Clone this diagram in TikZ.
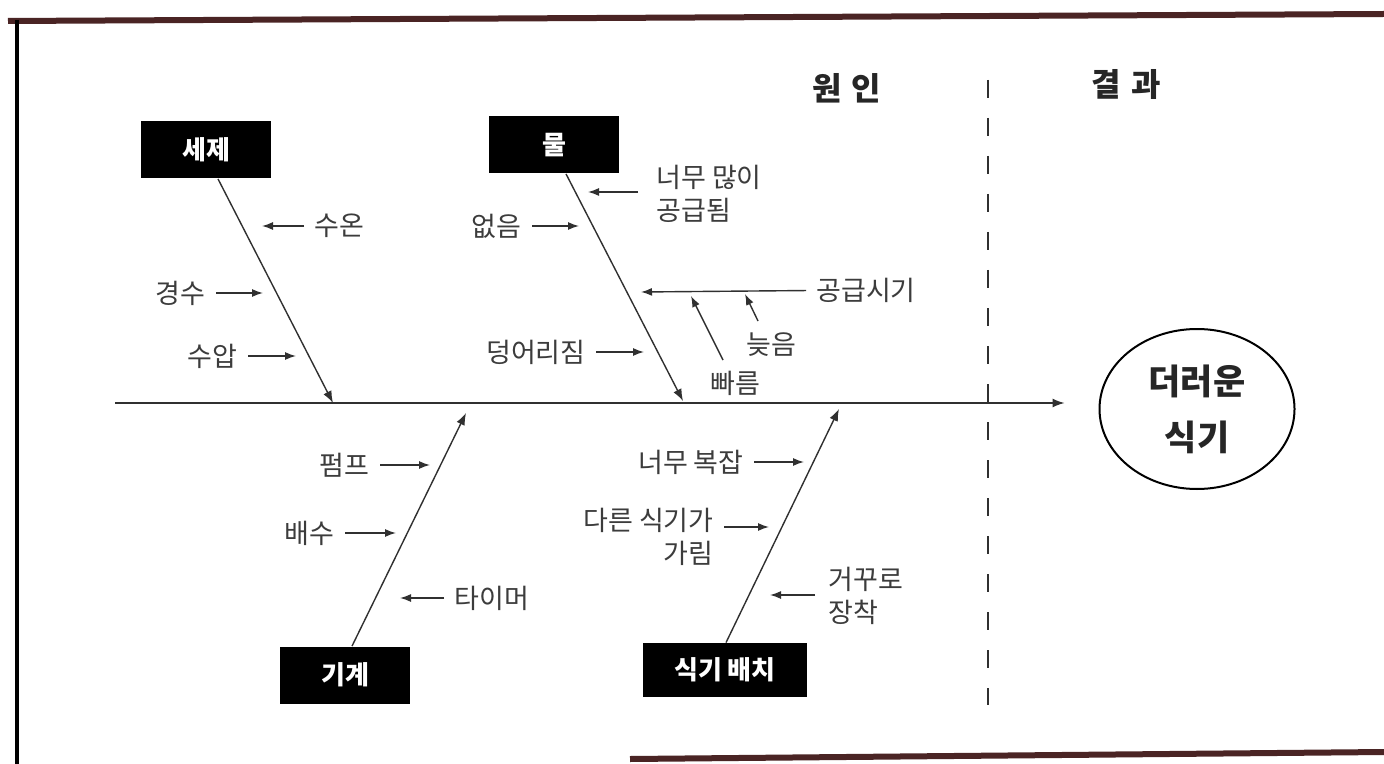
\documentclass[tikz,border=0pt]{standalone}
\usepackage{fontspec}
\setmainfont{Noto Sans CJK KR}
\usetikzlibrary{arrows.meta,shapes.geometric}
\definecolor{ink}{HTML}{303030}
\definecolor{lbl}{HTML}{3C3C3C}
\definecolor{frame}{HTML}{4A2424}
\tikzset{
  arr/.style={draw=ink, line width=0.7pt, -{Latex[length=5.5pt,width=4pt]}},
  tarr/.style={arr, shorten <=4pt},
  bone/.style={draw=ink, line width=0.7pt, -{Latex[length=6pt,width=4.5pt]}},
  catbox/.style={fill=black, text=white, font=\fontsize{13}{15}\selectfont\bfseries, minimum width=65pt, minimum height=28.5pt, inner sep=0pt},
  lab/.style={text=lbl, font=\fontsize{13.5}{16.5}\selectfont, inner sep=1pt},
  ttl/.style={text=black!85, font=\fontsize{16}{18}\selectfont\bfseries, inner sep=0pt},
}
\begin{document}
\begin{tikzpicture}[x=0.5pt,y=-0.5pt]
\useasboundingbox (0,0) rectangle (1384,764);
\fill[white] (0,0) rectangle (1384,764);
% frame
\draw[frame, line width=3pt] (8,21) -- (1384,14);
\draw[black, line width=2pt] (17,20) -- (17,764);
\draw[frame, line width=3pt] (630,759) -- (1384,752);
% titles
\node[ttl] (cause) at (847,88) {원\hspace{5pt}인};
\node[ttl] (effect) at (1126,85) {결\hspace{5pt}과};
% dashed divider
\coordinate (dvT) at (988,80);
\coordinate (dvB) at (988,705);
\draw[ink, line width=1pt, dash pattern=on 9pt off 10pt] (dvT) -- (dvB);
% effect
\node[draw=black, line width=1pt, ellipse, minimum width=97.5pt, minimum height=80pt, align=center,
  font=\fontsize{17.5}{28}\selectfont\bfseries, text=black!85] (eff) at (1197,409) {더러운\\식기};
% spine
\coordinate (spL) at (115,403);
\draw[bone, shorten >=17pt] (spL) -- (spL -| eff.west);
% category boxes
\node[catbox] (c1) at (206,150) {세제};
\node[catbox] (c2) at (554,145) {물};
\node[catbox] (c3) at (345,675) {기계};
\node[catbox, minimum width=82pt, minimum height=27pt] (c4) at (725,670) {식기 배치};
% bone ends
\coordinate (b1) at (333,403);
\coordinate (b2) at (683,401);
\coordinate (b3) at (466,413);
\coordinate (b4) at (839,409);
\draw[bone] (c1.south -| 218,0) -- (b1);
\draw[bone] (c2.south -| 566,0) -- (b2);
\draw[bone] (c3.north -| 352,0) -- (b3);
\draw[bone] (c4.north -| 726,0) -- (b4);
% --- 세제 causes
\node[lab, anchor=west] (suon) at (312,226) {수온};
\coordinate (t1) at (262,226);
\draw[tarr] (suon) -- (t1);
\node[lab, anchor=east] (gyeongsu) at (208,293) {경수};
\coordinate (t2) at (263,293);
\draw[tarr] (gyeongsu) -- (t2);
\node[lab, anchor=east] (suap) at (240,356) {수압};
\coordinate (t3) at (296,356);
\draw[tarr] (suap) -- (t3);
% --- 물 causes
\node[lab, anchor=west, align=left] (toomuch) at (654,194) {너무 많이\\공급됨};
\coordinate (t4s) at (638,192);
\coordinate (t4) at (588,192);
\draw[arr] (t4s) -- (t4);
\node[lab, anchor=east] (eopseum) at (524,226) {없음};
\coordinate (t5) at (579,226);
\draw[tarr] (eopseum) -- (t5);
\node[lab, anchor=west] (sigi) at (814,290) {공급시기};
\coordinate (t6) at (641,292);
\draw[tarr] (sigi) -- (t6);
\coordinate (t7) at (745,294);
\node[lab] (neujeum) at (771,345) {늦음};
\coordinate (n7) at (758,321);
\draw[arr] (n7) -- (t7);
\coordinate (t8) at (691,296);
\node[lab] (ppareum) at (735,383) {빠름};
\coordinate (n8) at (723,360);
\draw[arr] (n8) -- (t8);
\node[lab, anchor=east] (deong) at (588,352) {덩어리짐};
\coordinate (t9) at (644,352);
\draw[tarr] (deong) -- (t9);
% --- 기계 causes
\node[lab, anchor=east] (pump) at (372,465) {펌프};
\coordinate (t10) at (430,465);
\draw[tarr] (pump) -- (t10);
\node[lab, anchor=east] (baesu) at (337,533) {배수};
\coordinate (t11) at (396,533);
\draw[tarr] (baesu) -- (t11);
\node[lab, anchor=west] (timer) at (452,598) {타이머};
\coordinate (t12) at (400,598);
\draw[tarr] (timer) -- (t12);
% --- 식기 배치 causes
\node[lab, anchor=east] (complex) at (746,462) {너무 복잡};
\coordinate (t13) at (804,462);
\draw[tarr] (complex) -- (t13);
\node[lab, anchor=east, align=right] (other) at (716,537) {다른 식기가\\가림};
\coordinate (t14s) at (724,527);
\coordinate (t14) at (769,527);
\draw[arr] (t14s) -- (t14);
\node[lab, anchor=west, align=left] (reverse) at (826,596) {거꾸로\\장착};
\coordinate (t15s) at (815,595);
\coordinate (t15) at (770,595);
\draw[arr] (t15s) -- (t15);
\end{tikzpicture}
\end{document}
